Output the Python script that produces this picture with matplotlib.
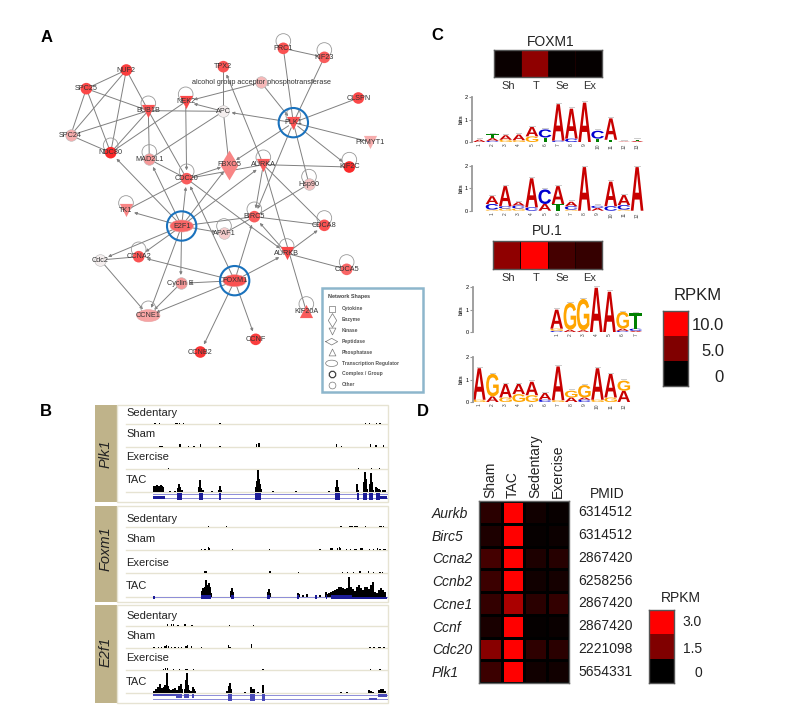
import matplotlib
matplotlib.use("Agg")
import matplotlib.pyplot as plt
from matplotlib.colors import LinearSegmentedColormap
from matplotlib.font_manager import FontProperties
from matplotlib.patches import Circle, Ellipse, PathPatch, Rectangle
from matplotlib.textpath import TextPath
from matplotlib.transforms import Affine2D

plt.rcParams["font.family"] = ["Liberation Sans", "DejaVu Sans"]
W, H = 798, 717

# ---- panel A network
node_names = ["NUF2", "SPC25", "SPC24", "NDC80", "BUB1B", "NEK2", "APC", "TPX2",
              "alcohol group acceptor phosphotransferase", "PRC1", "KIF23", "PLK1",
              "CLSPN", "PKMYT1", "KIF2C", "Hsp90", "AURKA", "FBXO5", "CDC20", "MAD2L1",
              "TK1", "E2F1", "BIRC5", "APAF1", "CDCA8", "AURKB", "CDCA5", "FOXM1",
              "CCNA2", "Cdc2", "Cyclin E", "CCNE1", "CCNB2", "CCNF", "KIF20A"]
node_x = [289, 169, 122, 242, 355, 467, 580, 580, 693, 760, 883, 790, 985, 1021, 958, 837,
          700, 597, 470, 358, 288, 455, 673, 582, 883, 770, 950, 614, 326, 211, 452, 355,
          511, 677, 829]
node_y = [150, 206, 346, 398, 272, 245, 274, 140, 187, 85, 112, 308, 234, 366, 441, 492,
          434, 434, 476, 418, 571, 618, 590, 640, 616, 700, 748, 782, 710, 720, 790, 887,
          996, 958, 874]
node_kind = ["o", "o", "o", "o", "v", "v", "o", "o", "o", "o", "o", "v", "o", "v", "o", "o",
             "v", "d", "o", "o", "v", "e", "o", "o", "o", "v", "o", "e", "o", "o", "o", "e",
             "o", "o", "^"]
node_fc = [0.9, 0.85, 0.35, 1.0, 0.8, 0.85, 0.03, 0.8, 0.3, 0.8, 0.75, 0.8, 0.85, 0.35, 1.0,
           0.25, 0.75, 0.55, 0.75, 0.45, 0.55, 0.7, 0.75, 0.2, 0.8, 0.85, 0.7, 0.8, 0.8, 0.03,
           0.45, 0.4, 0.95, 0.9, 0.75]
self_loops = ["NDC80", "BUB1B", "NEK2", "MAD2L1", "CDC20", "PRC1", "KIF23", "PLK1", "KIF2C",
              "AURKA", "Hsp90", "BIRC5", "APAF1", "CDCA8", "AURKB", "CDCA5", "CCNA2", "CCNE1",
              "KIF20A", "TK1"]
hubs = ["PLK1", "E2F1", "FOXM1"]
plain_edges = [("NUF2", "SPC25"), ("NUF2", "SPC24"), ("NUF2", "NDC80"), ("NUF2", "BUB1B"),
               ("SPC25", "SPC24"), ("SPC25", "NDC80"), ("SPC25", "BUB1B"), ("SPC24", "BUB1B"),
               ("SPC24", "NDC80"), ("BUB1B", "NDC80"), ("NEK2", "NDC80"), ("BUB1B", "APC"),
               ("BUB1B", "MAD2L1"), ("BUB1B", "CDC20"), ("APC", "TPX2"), ("APC", "FBXO5"),
               ("MAD2L1", "APC"), ("PLK1", "PRC1"), ("PLK1", "KIF23"), ("PLK1", "CLSPN"),
               ("PLK1", "PKMYT1"), ("PLK1", "Hsp90"), ("AURKA", "KIF2C"), ("AURKA", "CDCA8"),
               ("AURKA", "KIF20A"), ("CDC20", "AURKA"), ("MAD2L1", "CDC20"), ("E2F1", "BIRC5"),
               ("TK1", "CDC20"), ("AURKB", "CDCA5"), ("BIRC5", "CDCA8"), ("BIRC5", "APAF1"),
               ("BIRC5", "Hsp90"), ("CCNA2", "Cdc2"), ("PRC1", "KIF23")]
arrow_edges = [("APC", "NEK2"), ("alcohol group acceptor phosphotransferase", "NEK2"),
               ("alcohol group acceptor phosphotransferase", "PLK1"), ("NEK2", "CDC20"),
               ("PLK1", "APC"), ("PLK1", "FBXO5"), ("PLK1", "KIF2C"), ("PLK1", "BIRC5"),
               ("AURKA", "BIRC5"), ("AURKA", "TPX2"), ("CDC20", "FBXO5"), ("E2F1", "CDC20"),
               ("E2F1", "FBXO5"), ("E2F1", "AURKA"), ("E2F1", "NDC80"), ("E2F1", "MAD2L1"),
               ("E2F1", "TK1"), ("E2F1", "APAF1"), ("E2F1", "CCNA2"), ("E2F1", "Cdc2"),
               ("E2F1", "Cyclin E"), ("E2F1", "CCNE1"), ("CDC20", "AURKB"), ("FOXM1", "CDC20"),
               ("FOXM1", "BIRC5"), ("FOXM1", "AURKB"), ("FOXM1", "Cyclin E"), ("FOXM1", "CCNA2"),
               ("FOXM1", "CCNE1"), ("FOXM1", "CCNB2"), ("FOXM1", "CCNF"), ("Cyclin E", "CCNE1"),
               ("Cdc2", "CCNE1"), ("AURKB", "BIRC5"), ("AURKB", "CDCA8")]
shape_labels = ["Cytokine", "Enzyme", "Kinase", "Peptidase", "Phosphatase",
                "Transcription Regulator", "Complex / Group", "Other"]
shape_markers = ["s", "d", "v", "D", "^", "e", "8", "o"]

# ---- panel B tracks
track_names = ["Sedentary", "Sham", "Exercise", "TAC"]
plk1_base = [72, 140, 208, 277]
foxm1_base = [381, 450, 518, 590]
e2f1_base = [677, 745, 810, 880]
plk1_sed_pos = [195, 208, 258, 263, 268, 280, 390, 826, 838, 860, 870]
plk1_sed_h = [3, 3, 3, 3, 3, 3, 4, 3, 3, 3, 3]
plk1_sham_pos = [208, 212, 216, 270, 295, 312, 331, 390, 500, 505, 509, 740, 755, 842, 858, 881]
plk1_sham_h = [3, 3, 3, 8, 3, 3, 7, 3, 8, 12, 10, 7, 3, 7, 4, 5]
plk1_ex_pos = [236, 805, 845, 868]
plk1_ex_h = [3, 3, 3, 3]
plk1_tac_pos = [192, 196, 200, 204, 208, 212, 216, 220, 240, 255, 265, 268, 271, 275, 328, 331,
                334, 338, 365, 387, 390, 393, 497, 500, 503, 506, 509, 512, 550, 617, 718, 739,
                742, 745, 748, 802, 805, 822, 825, 828, 831, 841, 844, 847, 850, 858, 862, 866,
                870, 880, 884]
plk1_tac_h = [18, 20, 22, 18, 20, 21, 20, 15, 3, 3, 12, 25, 15, 8, 15, 38, 12, 6, 3, 8, 18, 6,
              15, 35, 66, 40, 25, 10, 3, 3, 3, 15, 38, 15, 5, 26, 6, 30, 62, 40, 10, 25, 58, 30,
              8, 15, 14, 10, 6, 8, 7]
foxm1_sed_pos = [355, 410, 753, 778, 783, 788, 793, 798, 803, 827, 870, 875, 880]
foxm1_sed_h = [4, 3, 3, 3, 3, 3, 3, 3, 3, 3, 3, 3, 3]
foxm1_sham_pos = [335, 345, 355, 358, 428, 538, 690, 722, 726, 742, 748, 752, 770, 782, 795, 800,
                  812, 816, 838, 850, 862, 870, 880, 885]
foxm1_sham_h = [3, 3, 8, 5, 4, 3, 3, 7, 6, 5, 9, 6, 3, 3, 3, 3, 6, 5, 3, 3, 6, 4, 4, 3]
foxm1_ex_pos = [345, 350, 540, 626, 758, 772, 790, 808, 812, 836, 850, 870, 878]
foxm1_ex_h = [4, 4, 4, 3, 3, 3, 3, 6, 4, 4, 3, 3, 3]
foxm1_tac_pos = [336, 340, 344, 348, 352, 356, 360, 364, 423, 426, 429, 533, 536, 539, 624, 627,
                 640, 652, 678, 690, 708, 712, 718, 722, 728, 734, 740, 746, 752, 758, 764, 770,
                 778, 784, 790, 796, 802, 808, 814, 820, 826, 832, 838, 844, 850, 856, 862, 868,
                 874, 880, 886]
foxm1_tac_h = [18, 25, 30, 50, 35, 40, 30, 10, 18, 25, 14, 15, 22, 12, 12, 8, 5, 8, 6, 6, 15, 8,
               10, 15, 18, 20, 22, 28, 30, 25, 22, 25, 58, 30, 22, 18, 28, 35, 25, 20, 28, 30, 22,
               35, 45, 15, 12, 20, 25, 20, 15]
e2f1_sed_pos = [232, 245, 250, 264, 285, 306, 418, 490]
e2f1_sed_h = [5, 4, 6, 3, 6, 3, 3, 3]
e2f1_sham_pos = [192, 205, 215, 225, 230, 235, 245, 255, 265, 275, 288, 292, 305, 334, 415, 420,
                 485, 840, 852, 865, 870, 882]
e2f1_sham_h = [4, 3, 5, 8, 9, 6, 4, 3, 3, 3, 8, 9, 6, 3, 9, 5, 12, 4, 3, 3, 3, 3]
e2f1_ex_pos = [220, 226, 232, 250, 268, 288, 292, 310, 519, 841, 870]
e2f1_ex_h = [3, 6, 6, 3, 3, 3, 3, 3, 3, 3, 3]
e2f1_tac_pos = [192, 198, 204, 210, 216, 222, 226, 230, 234, 238, 244, 250, 256, 262, 268, 272,
                276, 284, 288, 291, 294, 298, 304, 308, 312, 316, 412, 416, 419, 422, 466, 484,
                488, 492, 505, 518, 520, 752, 772, 838, 843, 848, 866, 872, 878, 884]
e2f1_tac_h = [8, 14, 18, 28, 16, 20, 25, 60, 22, 14, 10, 12, 16, 10, 22, 28, 14, 12, 40, 62, 24,
              10, 8, 18, 12, 6, 6, 22, 30, 14, 3, 20, 14, 12, 4, 25, 15, 3, 3, 10, 6, 4, 10, 14,
              12, 8]
# exons: start, end, top, bottom
plk1_exons = [(190, 225, 288, 298), (262, 275, 280, 300), (327, 338, 280, 300), (386, 394, 280, 300),
              (496, 512, 280, 300), (736, 750, 280, 300), (802, 808, 280, 300), (820, 832, 280, 300),
              (838, 850, 280, 300), (858, 870, 280, 300), (870, 890, 289, 297)]
foxm1_exons = [(188, 195, 589, 596), (333, 363, 585, 598), (422, 431, 585, 598), (531, 541, 585, 598),
               (622, 628, 585, 598), (676, 680, 585, 598), (707, 712, 585, 598), (722, 787, 585, 598),
               (787, 890, 590, 596)]
e2f1_exons = [(188, 265, 882, 888), (258, 276, 882, 893), (283, 297, 882, 893), (305, 313, 882, 893),
              (414, 425, 882, 902), (480, 495, 882, 902), (516, 524, 882, 902), (838, 860, 893, 899),
              (865, 890, 882, 891)]
plk1_introns = [283, 293]
foxm1_introns = [592]
e2f1_introns = [885, 896]

# ---- panel C expression and motifs
cond_short = ["Sh", "T", "Se", "Ex"]
foxm1_rpkm = [0.4, 5.6, 0.2, 0.2]
pu1_rpkm = [5.6, 10.0, 2.7, 2.1]
rpkm_levels = [0, 5, 10]
foxm1_logo1 = [[("A", .10)], [("C", .05), ("A", .12), ("T", .18)], [("G", .10), ("A", .20)],
               [("G", .08), ("A", .25)], [("G", .25), ("A", .42)], [("T", .20), ("C", .36)],
               [("C", .06), ("A", 1.62)], [("C", .15), ("A", 1.33)], [("A", 1.75)],
               [("T", .15), ("C", .35)], [("T", .10), ("A", .95)], [("A", .02)],
               [("A", .05), ("T", .05)]]
foxm1_logo2 = [[("G", .05), ("C", .25), ("A", .35)], [("G", .10), ("C", .10), ("A", .90)],
               [("G", .10), ("C", .13), ("A", .15)], [("C", .15), ("A", 1.30)],
               [("A", .30), ("C", .65)], [("T", .30), ("A", .80)],
               [("G", .05), ("C", .15), ("A", .20)], [("A", 1.95)],
               [("A", .12), ("C", .10)], [("C", .20), ("A", 1.10)],
               [("G", .05), ("C", .20), ("A", .45)], [("A", 1.95)]]
pu1_logo1 = [[("C", .05), ("G", .10), ("A", .85)], [("A", .10), ("G", 1.20)],
             [("A", .08), ("G", 1.40)], [("A", 1.98)], [("A", 1.80)],
             [("C", .05), ("A", .10), ("G", .75)], [("A", .05), ("C", .10), ("T", .70)]]
pu1_logo2 = [[("G", .10), ("A", 1.40)], [("A", .25), ("G", 1.00)], [("G", .20), ("A", .60)],
             [("G", .35), ("A", .45)], [("G", .30), ("A", .60)], [("C", .10), ("A", .30)],
             [("G", .08), ("A", 1.50)], [("A", .20), ("G", .30)],
             [("C", .10), ("A", .10), ("G", .55)], [("G", .10), ("A", 1.40)],
             [("G", .20), ("A", 1.05)], [("A", .50), ("G", .45)]]
letter_colors = {"A": "#c80000", "C": "#0000d0", "G": "#ffa500", "T": "#008000"}

# ---- panel D
genes = ["Aurkb", "Birc5", "Ccna2", "Ccnb2", "Ccne1", "Ccnf", "Cdc20", "Plk1"]
conditions = ["Sham", "TAC", "Sedentary", "Exercise"]
sham_vals = [0.5, 0.35, 0.8, 0.7, 0.6, 0.3, 1.6, 0.7]
tac_vals = [3.0, 3.0, 3.0, 3.0, 2.0, 3.0, 3.0, 3.0]
sed_vals = [0.2, 0.08, 0.35, 0.2, 0.5, 0.06, 0.55, 0.2]
ex_vals = [0.1, 0.15, 0.45, 0.25, 0.6, 0.12, 0.5, 0.2]
pmids = ["6314512", "6314512", "2867420", "6258256", "2867420", "2867420", "2221098", "5654331"]
rpkm_levels_d = [0, 1.5, 3]

blackred = LinearSegmentedColormap.from_list("blackred", ["black", "red"])
whitered = LinearSegmentedColormap.from_list("whitered", ["#f4f4f4", "#fb2a2a"])

fig = plt.figure(figsize=(W / 100, H / 100), dpi=100)


def px_axes(x0, y0, x1, y1):
    return fig.add_axes([x0 / W, 1 - y1 / H, (x1 - x0) / W, (y1 - y0) / H])


def px_text(x, y, s, **kw):
    kw.setdefault("ha", "center")
    kw.setdefault("va", "center")
    fig.text(x / W, 1 - y / H, s, **kw)


def heat_strip(box, values, vmax, title, title_xy, label_xs, label_y):
    ax = px_axes(*box)
    ax.pcolormesh([values], cmap=blackred, vmin=0, vmax=vmax, edgecolors="#1a0000", linewidth=0.4)
    ax.set_xticks([])
    ax.set_yticks([])
    for s in ax.spines.values():
        s.set_color("#555555")
        s.set_linewidth(1)
    px_text(title_xy[0], title_xy[1], title, fontsize=10, color="#222222")
    for x, lab in zip(label_xs, cond_short):
        px_text(x, label_y, lab, fontsize=8, color="#333333")


def color_key(box, levels, vmax, labels, label_x, label_ys, fontsize):
    ax = px_axes(*box)
    ax.pcolormesh([[v] for v in levels], cmap=blackred, vmin=0, vmax=vmax)
    ax.set_xticks([])
    ax.set_yticks([])
    for s in ax.spines.values():
        s.set_color("#555555")
        s.set_linewidth(1)
    for lab, y in zip(labels, label_ys):
        px_text(label_x, y, lab, fontsize=fontsize, ha="right", color="#222222")


def draw_logo(box, logo, xlim, first=1):
    ax = px_axes(*box)
    ax.set_xlim(*xlim)
    ax.set_ylim(0, 2)
    fp = FontProperties(family="Liberation Sans", weight="bold")
    for i, stack in enumerate(logo):
        pos = first + i
        bottom = 0
        for letter, h in stack:
            path = TextPath((0, 0), letter, size=1, prop=fp)
            bb = path.get_extents()
            tr = (Affine2D().translate(-bb.x0, -bb.y0).scale(0.96 / bb.width, h / bb.height)
                  .translate(pos - 0.48, bottom))
            ax.add_patch(PathPatch(path, transform=tr + ax.transData, fc=letter_colors[letter],
                                   lw=0, clip_on=False))
            bottom += h
        ax.plot([pos - 0.2, pos + 0.2], [bottom + 0.06] * 2, color="#cccccc", lw=0.7, clip_on=False)
    for side in ["top", "right", "bottom"]:
        ax.spines[side].set_visible(False)
    ax.spines["left"].set_color("#999999")
    ax.spines["left"].set_linewidth(1.3)
    ax.set_yticks([0, 1, 2])
    ax.set_xticks(range(first, first + len(logo)))
    ax.set_xticklabels(range(1, len(logo) + 1), rotation=90, fontsize=3.5, color="#444444")
    ax.tick_params(axis="x", length=0, pad=1)
    ax.tick_params(axis="y", length=2, width=0.8, color="#999999", labelsize=4, pad=1)
    ax.set_ylabel("bits", fontsize=4, labelpad=1, fontweight="bold", color="#333333")
    ax.patch.set_alpha(0)


# panel letters
for x, y, s in [(47, 37, "A"), (46, 411, "B"), (437, 36, "C"), (423, 411, "D")]:
    px_text(x, y, s, fontsize=12, fontweight="bold")

# ---- network, axes units follow the layout of the drawing
ax = px_axes(30, 20, 430, 400)
ax.set_xlim(0, 1200)
ax.set_ylim(1140, 0)
ax.axis("off")
xy = {n: (x, y) for n, x, y in zip(node_names, node_x, node_y)}
for a, b in plain_edges:
    ax.plot([xy[a][0], xy[b][0]], [xy[a][1], xy[b][1]], color="#808080", lw=0.7, zorder=1)
for a, b in arrow_edges:
    ax.annotate("", xy=xy[b], xytext=xy[a], zorder=1,
                arrowprops=dict(arrowstyle="-|>", color="#808080", lw=0.7, mutation_scale=4,
                                shrinkA=4, shrinkB=6))
for n in self_loops:
    ax.add_patch(Circle((xy[n][0], xy[n][1] - 22), 22, fc="none", ec="#999999", lw=0.6, zorder=1))
for n, kind, fc in zip(node_names, node_kind, node_fc):
    x, y = xy[n]
    col = whitered(fc)
    if kind == "e":
        ax.add_patch(Ellipse((x, y), 70, 36, fc=col, ec="#e8a0a0", lw=0.4, zorder=2))
    elif kind == "d":
        ax.scatter([x], [y], marker="d", s=230, c=[col], linewidths=0, zorder=2)
    elif kind == "o":
        ax.scatter([x], [y], marker="o", s=70, c=[col], edgecolors="#bbbbbb" if fc < .5 else "none",
                   linewidths=0.4, zorder=2)
    else:
        ax.scatter([x], [y], marker=kind, s=90, c=[col], linewidths=0, zorder=2)
    ax.text(x, y, n, fontsize=5.2, color="#333333", ha="center", va="center", zorder=3)
for n in hubs:
    ax.add_patch(Circle(xy[n], 44, fc="none", ec="#1a72bd", lw=1.5, zorder=4))

# network legend
ax.add_patch(Rectangle((875, 803), 305, 312, fc="white", ec="#8db6cc", lw=1.8, zorder=5))
ax.text(893, 830, "Network Shapes", fontsize=3.9, fontweight="bold", color="#444444",
        va="center", zorder=6)
legend_ys = [866, 900, 932, 965, 997, 1030, 1062, 1095]
for lab, m, y in zip(shape_labels, shape_markers, legend_ys):
    if m == "e":
        ax.add_patch(Ellipse((905, y), 36, 19, fc="white", ec="#777777", lw=0.5, zorder=6))
    elif m == "D":
        ax.plot([887, 905, 923, 905, 887], [y, y - 10, y, y + 10, y], color="#777777", lw=0.5, zorder=6)
    else:
        ax.scatter([905], [y], marker=m, s=50 if m == "d" else 24, fc="white",
                   ec="#444444" if m == "8" else "#777777",
                   linewidths=0.9 if m == "8" else 0.5, zorder=6)
    ax.text(935, y, lab, fontsize=3.6, fontweight="bold", color="#555555", va="center", zorder=6)

# ---- genome tracks
ax = px_axes(90, 400, 400, 710)
ax.set_xlim(0, 930)
ax.set_ylim(930, 0)
ax.axis("off")
tan = "#bfb38a"
edge = "#e6e3d2"
groups = [
    ("Plk1", 15, 307, 160, plk1_base, [(plk1_sed_pos, plk1_sed_h), (plk1_sham_pos, plk1_sham_h),
                                       (plk1_ex_pos, plk1_ex_h), (plk1_tac_pos, plk1_tac_h)],
     plk1_exons, plk1_introns, [40, 102, 170, 240]),
    ("Foxm1", 317, 607, 445, foxm1_base, [(foxm1_sed_pos, foxm1_sed_h), (foxm1_sham_pos, foxm1_sham_h),
                                          (foxm1_ex_pos, foxm1_ex_h), (foxm1_tac_pos, foxm1_tac_h)],
     foxm1_exons, foxm1_introns, [358, 418, 488, 558]),
    ("E2f1", 615, 908, 757, e2f1_base, [(e2f1_sed_pos, e2f1_sed_h), (e2f1_sham_pos, e2f1_sham_h),
                                        (e2f1_ex_pos, e2f1_ex_h), (e2f1_tac_pos, e2f1_tac_h)],
     e2f1_exons, e2f1_introns, [647, 708, 775, 845]),
]
for name, top, bot, name_y, bases, tracks, exons, introns, label_ys in groups:
    ax.add_patch(Rectangle((15, top), 67, bot - top, fc=tan, ec="none"))
    ax.add_patch(Rectangle((82, top), 811, bot - top, fc="white", ec=edge, lw=1))
    ax.text(48, name_y, name, rotation=90, style="italic", fontsize=10.5, ha="center", va="center",
            color="#222222")
    for tname, base, (pos, hts), ly in zip(track_names, bases, tracks, label_ys):
        ax.plot([108, 890], [base, base], color=edge, lw=1, zorder=1)
        ax.bar(pos, [-h for h in hts], bottom=base, width=5.5 if tname == "TAC" else 4.5,
               color="black", lw=0, zorder=2)
        ax.text(108, ly, tname, fontsize=8, va="center", color="#222222")
    for y in introns:
        ax.plot([188, 890], [y, y], color="#8c8cd8", lw=0.7, zorder=2)
    for a, b, t, e in exons:
        ax.add_patch(Rectangle((a, t), b - a, e - t, fc="#1c1c98" if name != "E2f1" else "#4a4ab8",
                               ec="none", zorder=3))

# ---- panel C
heat_strip((494, 50, 602, 77), foxm1_rpkm, 10, "FOXM1", (551, 42), [508, 536, 562, 590], 86)
heat_strip((493, 241, 602, 269), pu1_rpkm, 10, "PU.1", (547, 231), [508, 536, 562, 590], 278)
draw_logo((472, 97, 643.7, 142), foxm1_logo1, (0.44, 13.5))
draw_logo((472, 166, 643.7, 210.7), foxm1_logo2, (-0.52, 12.5))
draw_logo((472.7, 287.3, 643.7, 332), pu1_logo1, (-5.37, 7.6))
draw_logo((472.7, 357, 631, 402), pu1_logo2, (0.5, 12.55))
color_key((663, 311, 688, 386), rpkm_levels, 10, ["0", "5.0", "10.0"], 724, [377, 351, 325], 12)
px_text(698, 296, "RPKM", fontsize=12, color="#222222")

# ---- panel D
ax = px_axes(479, 501, 569, 683)
matrix = [list(r) for r in zip(sham_vals, tac_vals, sed_vals, ex_vals)]
ax.pcolormesh(matrix, cmap=blackred, vmin=0, vmax=3, edgecolors="black", linewidth=1)
ax.invert_yaxis()
ax.set_xticks([i + 0.5 for i in range(4)])
ax.set_xticklabels(conditions, rotation=90, fontsize=10, color="#222222")
ax.xaxis.tick_top()
ax.set_yticks([i + 0.5 for i in range(8)])
ax.set_yticklabels(genes, style="italic", fontsize=10, color="#222222", ha="left")
ax.tick_params(length=0, pad=2)
ax.tick_params(axis="y", pad=34)
for s in ax.spines.values():
    s.set_color("#666666")
    s.set_linewidth(1)
for i, p in enumerate(pmids):
    ax.text(4.4, i + 0.5, p, fontsize=10, va="center", color="#222222", clip_on=False)
px_text(607, 494, "PMID", fontsize=10, color="#222222")
color_key((649, 610, 674, 683), rpkm_levels_d, 3, ["0", "1.5", "3.0"], 702, [673, 649, 622], 10)
px_text(681, 598, "RPKM", fontsize=10, color="#222222")

fig.savefig("out.png", dpi=100)
